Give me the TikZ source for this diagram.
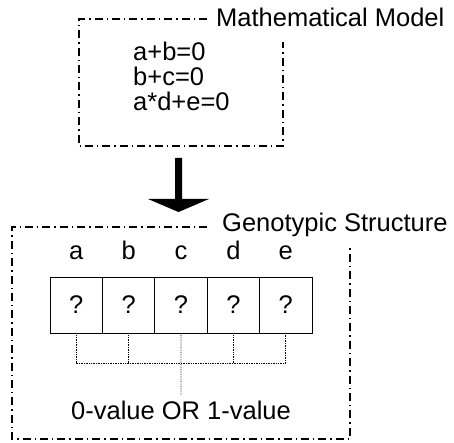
\documentclass[tikz,border=0pt]{standalone}
\usepackage{fontspec}
\setmainfont{Liberation Sans}
\usetikzlibrary{positioning}

\begin{document}
\begin{tikzpicture}[x=1pt, y=-1pt,
    frame/.style={line width=1.4pt, dash pattern=on 8pt off 4pt on 1.4pt off 4pt},
    txt/.style={font=\fontsize{25.5}{25.5}\selectfont, inner sep=0pt},
    gene/.style={draw, line width=0.9pt, minimum width=52.4pt, minimum height=56pt,
        inner sep=0pt, font=\fontsize{25.5}{25.5}\selectfont},
    link/.style={densely dotted, line width=0.7pt}]
    \useasboundingbox (0,0) rectangle (454,443);

    % mathematical model
    \begin{scope}
        \node[txt, anchor=base west] (mtitle) at (216,27) {Mathematical Model};
        \draw[frame] (207,19) -- (79,19) -- (79,146) -- (283,146) -- (283,42);

        \node[txt, anchor=base west] (eq1) at (133,61) {a+b=0};
        \node[txt, anchor=base west] (eq2) at (133,86) {b+c=0};
        \node[txt, anchor=base west] (eq3) at (133,111) {a*d+e=0};
    \end{scope}

    % big arrow
    \fill (175,158) -- (182,158) -- (182,199) -- (209,199) -- (178.5,212)
        -- (148,199) -- (175,199) -- cycle;

    % genotypic structure
    \begin{scope}
        \node[txt, anchor=base west] (gtitle) at (222,232) {Genotypic Structure};
        \draw[frame] (207,227) -- (12,227) -- (12,439) -- (350,439) -- (350,247);

        \foreach \n [count=\i from 0] in {a,b,c,d,e} {
            \node[gene] (g\n) at ({76.2+52.4*\i},305) {?};
            \node[txt, above=17pt of g\n.north, anchor=base] (l\n) {\n};
        }

        \node[txt] (val) at (181,410) {0-value OR 1-value};

        \coordinate (hl) at (ga.south |- 0,363);
        \coordinate (hr) at (ge.south |- 0,363);
        \draw[link] (ga.south) -- (hl) -- (hr) -- (ge.south);
        \foreach \n in {b,d} {
            \draw[link] (g\n.south) -- (g\n.south |- hl);
        }
        \draw[link] (gc.south) -- (val.north |- 0,395);
    \end{scope}
\end{tikzpicture}
\end{document}
